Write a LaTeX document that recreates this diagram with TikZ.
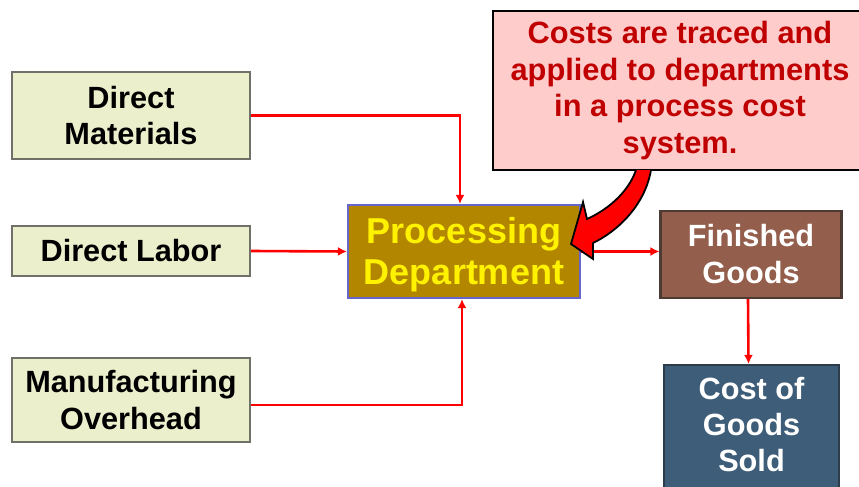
\documentclass[tikz,border=0pt]{standalone}
\usepackage{fontspec}
\setmainfont{Liberation Sans}
\usetikzlibrary{positioning,arrows.meta,calc}

\definecolor{inputfill}{RGB}{236,239,204}
\definecolor{inputline}{RGB}{112,112,104}
\definecolor{deptfill}{RGB}{179,134,0}
\definecolor{deptline}{RGB}{102,102,204}
\definecolor{fgfill}{RGB}{147,94,75}
\definecolor{fgline}{RGB}{77,58,51}
\definecolor{cgsfill}{RGB}{62,93,120}
\definecolor{cgsline}{RGB}{45,60,75}
\definecolor{notefill}{RGB}{255,204,204}
\definecolor{notetext}{RGB}{192,0,0}

\begin{document}
\begin{tikzpicture}[x=1pt,y=-1pt,
  costbox/.style={draw=inputline, line width=2.2pt, fill=inputfill, align=center,
    font=\fontsize{30.7}{36.5}\selectfont\bfseries, minimum width=238pt, inner sep=0pt},
  flow/.style={red, line width=2.6pt, -{Latex[length=9pt,width=9pt]}}]
\useasboundingbox (0,0) rectangle (859,487);
\clip (0,0) rectangle (859,487);

% cost inputs
\node [costbox, minimum height=87pt] (dm) at (131,115.5) {Direct\\Materials};
\node [costbox, minimum height=50pt] (dl) at (131,251) {Direct Labor};
\node [costbox, minimum height=84pt] (mo) at (131,400) {Manufacturing\\Overhead};

% department and outputs
\node [draw=deptline, line width=2.2pt, fill=deptfill, minimum width=232pt,
  minimum height=93pt, inner sep=0pt] (pd) at (464,251.5) {};
\node [text=yellow, align=center, font=\fontsize{36}{41}\selectfont\bfseries,
  inner sep=0pt] (pdlabel) at (464,254.5) {Processing\\Department};
\node [draw=fgline, line width=2.2pt, fill=fgfill, text=white, align=center,
  font=\fontsize{30.7}{37}\selectfont\bfseries, minimum width=181pt, minimum height=87pt,
  inner sep=0pt] (fg) at (751,254.5) {Finished\\Goods};
\node [draw=cgsline, line width=2.2pt, fill=cgsfill, minimum width=175pt,
  minimum height=140pt, inner sep=0pt] (cgs) at (751.5,435) {};
\node [text=white, align=center, font=\fontsize{30.7}{36}\selectfont\bfseries]
  (cgslabel) at (751.5,425) {Cost of\\Goods\\Sold};

% note
\node [draw=black, line width=1.8pt, fill=notefill, text=notetext, align=center,
  font=\fontsize{30.8}{36.7}\selectfont\bfseries, minimum width=374pt, minimum height=159pt,
  inner sep=0pt] (note) at (680,90.5)
  {Costs are traced and\\applied to departments\\in a process cost\\system.};

% flows
\draw [flow] (dm.east) -| ([xshift=-4pt]pd.north);
\draw [flow] (dl.east) -- (pd.west);
\draw [flow] ([yshift=-5pt]mo.east) -| ([xshift=-2pt]pd.south);
\draw [flow] (pd.east) -- (pd.east -| fg.west);
\draw [flow] ([xshift=-3pt]fg.south) -- ([xshift=-3pt]cgs.north);

% curved pointer from the note
\coordinate (shaftL) at (636,170);
\coordinate (shaftR) at (651,170);
\coordinate (baseU) at (587,219);
\coordinate (baseD) at (593,243);
\coordinate (barbU) at (583,202);
\coordinate (barbD) at (593,259);
\coordinate (tip) at (571,244);
\draw [black, line width=1.8pt, fill=red, line join=miter]
  (shaftL) .. controls (628,193) and (607,210) .. (baseU)
  -- (barbU) -- (tip) -- (barbD) -- (baseD)
  .. controls (618,231) and (645,205) .. (shaftR);
\end{tikzpicture}
\end{document}
